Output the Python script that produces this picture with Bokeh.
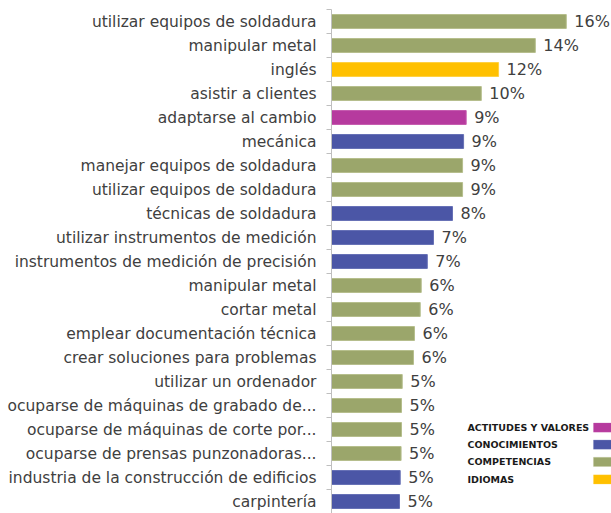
from bokeh.plotting import figure
from bokeh.models import ColumnDataSource, Range1d, FixedTicker, Label, BoxAnnotation
from bokeh.core.properties import value
from bokeh.embed import file_html
from bokeh.resources import INLINE

categories = [
    "utilizar equipos de soldadura",
    "manipular metal",
    "inglés",
    "asistir a clientes",
    "adaptarse al cambio",
    "mecánica",
    "manejar equipos de soldadura",
    "utilizar equipos de soldadura",
    "técnicas de soldadura",
    "utilizar instrumentos de medición",
    "instrumentos de medición de precisión",
    "manipular metal",
    "cortar metal",
    "emplear documentación técnica",
    "crear soluciones para problemas",
    "utilizar un ordenador",
    "ocuparse de máquinas de grabado de...",
    "ocuparse de máquinas de corte por...",
    "ocuparse de prensas punzonadoras...",
    "industria de la construcción de edificios",
    "carpintería",
]
values = [16.3, 14.15, 11.6, 10.4, 9.35, 9.17, 9.1, 9.1, 8.4, 7.08, 6.65,
          6.23, 6.16, 5.76, 5.69, 4.91, 4.86, 4.86, 4.83, 4.77, 4.72]
value_labels = ["16%", "14%", "12%", "10%", "9%", "9%", "9%", "9%", "8%", "7%", "7%",
                "6%", "6%", "6%", "6%", "5%", "5%", "5%", "5%", "5%", "5%"]
groups = ["COMPETENCIAS", "COMPETENCIAS", "IDIOMAS", "COMPETENCIAS", "ACTITUDES Y VALORES",
          "CONOCIMIENTOS", "COMPETENCIAS", "COMPETENCIAS", "CONOCIMIENTOS", "CONOCIMIENTOS",
          "CONOCIMIENTOS", "COMPETENCIAS", "COMPETENCIAS", "COMPETENCIAS", "COMPETENCIAS",
          "COMPETENCIAS", "COMPETENCIAS", "COMPETENCIAS", "COMPETENCIAS", "CONOCIMIENTOS",
          "CONOCIMIENTOS"]
legend_groups = ["ACTITUDES Y VALORES", "CONOCIMIENTOS", "COMPETENCIAS", "IDIOMAS"]
group_colors = {
    "ACTITUDES Y VALORES": "#B63A9E",
    "CONOCIMIENTOS": "#4B56A6",
    "COMPETENCIAS": "#9BA66B",
    "IDIOMAS": "#FFC000",
}
group_lines = {
    "ACTITUDES Y VALORES": "#C55AAE",
    "CONOCIMIENTOS": "#6670B5",
    "COMPETENCIAS": "#B5BE8C",
    "IDIOMAS": "#FFD040",
}

n = len(categories)
pos = list(range(n))
src = ColumnDataSource(dict(
    y=pos, v=values, lab=value_labels,
    fill=[group_colors[g] for g in groups],
    line=[group_lines[g] for g in groups],
))

XMAX = 19.44
p = figure(width=611, height=513, output_backend="svg", toolbar_location=None,
           x_range=Range1d(0, XMAX), y_range=Range1d(n - 0.5, -0.5),
           min_border_left=331, min_border_right=0, min_border_top=9, min_border_bottom=0)
p.outline_line_color = None
p.grid.visible = False
p.xaxis.visible = False
p.background_fill_color = "white"
p.border_fill_color = "white"

p.hbar(y="y", right="v", left=0, height=0.58, fill_color="fill", line_color="line",
       line_width=1, source=src)
p.text(x="v", y="y", text="lab", x_offset=8, text_align="left", text_baseline="middle",
       text_font=value("DejaVu Sans"), text_font_size="16px", text_color="#404040",
       source=src)

ya = p.yaxis[0]
ya.ticker = FixedTicker(ticks=pos, minor_ticks=[i - 0.5 for i in range(n + 1)])
ya.major_label_overrides = {i: c for i, c in zip(pos, categories)}
ya.major_tick_line_color = None
ya.major_tick_out = 0
ya.major_tick_in = 0
ya.minor_tick_line_color = "#BFBFBF"
ya.minor_tick_out = 5
ya.minor_tick_in = 0
ya.axis_line_color = "#BFBFBF"
ya.major_label_standoff = 10
ya.major_label_text_font = "DejaVu Sans"
ya.major_label_text_font_size = "15.5px"
ya.major_label_text_color = "#404040"

# legend (label on the left, swatch on the right)
leg_x_text = 9.44
leg_x_box = 18.19
leg_y = [16.92, 17.63, 18.35, 19.08]
for g, yy in zip(legend_groups, leg_y):
    p.add_layout(Label(x=leg_x_text, y=yy, text=g, text_font="DejaVu Sans",
                       text_font_style="bold", text_font_size="9.5px",
                       text_color="#1A1A1A", text_baseline="middle", text_align="left"))
    p.add_layout(BoxAnnotation(left=leg_x_box, right=XMAX, bottom=yy + 0.19, top=yy - 0.19,
                               fill_color=group_colors[g], fill_alpha=1.0,
                               line_color=group_lines[g], line_width=1))

open("out.html", "w").write(file_html(p, INLINE))
